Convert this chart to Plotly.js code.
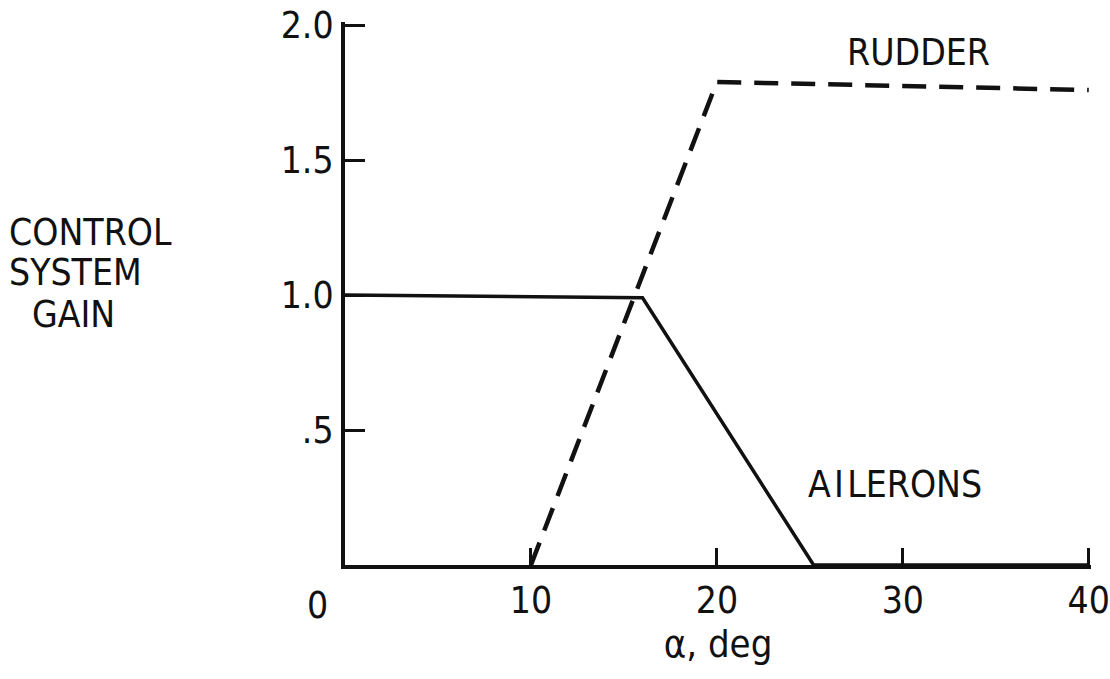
<!DOCTYPE html>
<html>
<head>
<meta charset="utf-8">
<script src="https://cdn.plot.ly/plotly-3.0.1.min.js"></script>
<style>html,body{margin:0;padding:0;background:#fff;}#chart{width:1110px;height:679px;}</style>
</head>
<body>
<div id="chart"></div>
<script>
const rudderAlpha = [10, 20, 40];
const rudderGain = [0, 1.79, 1.76];
const aileronAlpha = [0, 16, 25.2, 40];
const aileronGain = [1.0, 0.99, 0, 0];
const xTickVals = [10, 20, 30, 40];
const xTickText = ['10', '20', '30', '40'];
const yTickVals = [0.5, 1.0, 1.5, 2.0];
const yTickText = ['.5', '1.0', '1.5', '2.0'];

const FONT = '"Liberation Sans Narrow", "DejaVu Sans Condensed", "DejaVu Sans", sans-serif';
const INK = '#111';

const traces = [
  {x: aileronAlpha, y: aileronGain, mode: 'lines', name: 'AILERONS',
   line: {color: INK, width: 3.5}, cliponaxis: false},
  {x: rudderAlpha, y: rudderGain, mode: 'lines', name: 'RUDDER',
   line: {color: INK, width: 4.5, dash: '24px,13px'}, cliponaxis: false}
];

const layout = {
  width: 1110, height: 679,
  margin: {l: 345, r: 19, t: 22, b: 114},
  paper_bgcolor: '#fff', plot_bgcolor: '#fff',
  showlegend: false,
  font: {family: FONT, color: INK, size: 38},
  xaxis: {
    range: [0, 40.12], showgrid: false, zeroline: false,
    showline: true, linecolor: INK, linewidth: 4,
    ticks: 'inside', ticklen: 17, tickwidth: 3, tickcolor: INK,
    tickvals: xTickVals, ticktext: xTickText,
    ticklabeloverflow: 'allow',
    tickfont: {family: FONT, size: 37, color: INK},
    title: {text: 'α, deg', font: {family: FONT, size: 38, color: INK}, standoff: 4}
  },
  yaxis: {
    range: [0, 2.012], showgrid: false, zeroline: false,
    showline: true, linecolor: INK, linewidth: 4,
    ticks: 'inside', ticklen: 20, tickwidth: 3, tickcolor: INK,
    tickvals: yTickVals, ticktext: yTickText,
    tickfont: {family: FONT, size: 37, color: INK},
    ticklabelstandoff: 0
  },
  annotations: [
    {xref: 'x', yref: 'paper', x: 0, y: 0, xshift: -28, yshift: -40, text: '0', showarrow: false,
     font: {family: FONT, size: 37, color: INK}, xanchor: 'center', yanchor: 'middle'},
    {xref: 'paper', yref: 'paper', x: -0.453, y: 0.613, text: 'CONTROL', showarrow: false,
     xanchor: 'left', yanchor: 'middle', font: {family: FONT, size: 37, color: INK}},
    {xref: 'paper', yref: 'paper', x: -0.453, y: 0.539, text: 'SYSTEM', showarrow: false,
     xanchor: 'left', yanchor: 'middle', font: {family: FONT, size: 37, color: INK}},
    {xref: 'paper', yref: 'paper', x: -0.422, y: 0.461, text: 'GAIN', showarrow: false,
     xanchor: 'left', yanchor: 'middle', font: {family: FONT, size: 37, color: INK}},
    {xref: 'x', yref: 'y', x: 26.9, y: 1.90, text: 'RUDDER', showarrow: false,
     xanchor: 'left', yanchor: 'middle', font: {family: FONT, size: 37, color: INK}},
    {xref: 'x', yref: 'y', x: 24.8, y: 0.30, text: 'A\u200AI\u200ALERONS', showarrow: false,
     xanchor: 'left', yanchor: 'middle', font: {family: FONT, size: 37, color: INK}}
  ]
};

Plotly.newPlot('chart', traces, layout, {displayModeBar: false, staticPlot: true});
</script>
</body>
</html>
